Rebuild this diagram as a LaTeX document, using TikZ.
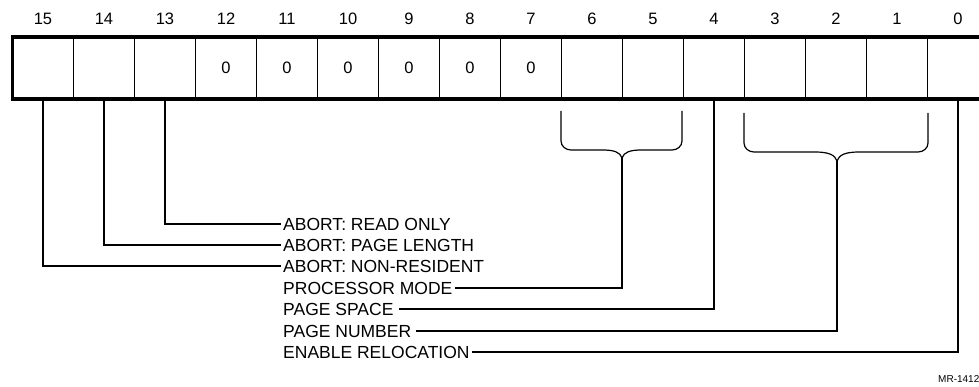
\documentclass[tikz,border=0pt]{standalone}
\usepackage{fontspec}
\setmainfont{Liberation Sans}
\usetikzlibrary{positioning}

\tikzset{
  cell/.style={draw,line width=1pt,minimum width=61pt,minimum height=62pt,inner sep=0pt,outer sep=0pt,font=\fontsize{16.5}{19}\selectfont},
  bitnum/.style={font=\fontsize{16.5}{19}\selectfont},
  frame/.style={line width=3.6pt},
  wire/.style={line width=1.2pt},
  flag/.style={anchor=west,inner sep=2pt,font=\fontsize{17.5}{20}\selectfont},
  flagr/.style={flag,inner xsep=5pt}
}

\begin{document}
\begin{tikzpicture}[x=1pt,y=-1pt]
  \useasboundingbox (0,0) rectangle (979,387);
  % register cells
  \foreach \b/\v in {15/,14/,13/,12/0,11/0,10/0,9/0,8/0,7/0,6/,5/,4/,3/,2/,1/,0/}{
    \node[cell] (b\b) at ({958-61*\b},68) {\v};
    \node[bitnum] (n\b) at ({958-61*\b},19) {\b};
  }
  \draw[frame] (b15.north west) rectangle (b0.south east);

  % braces
  \coordinate (br1) at (622,158);
  \coordinate (br2) at (837,161);
  \draw[wire] (561,111) -- (561,141) to[out=-90,in=180] (571,150) -- (602,150)
     .. controls (614,150) and (620,152) .. (br1)
     .. controls (624,152) and (630,150) .. (642,150) -- (672,150)
     to[out=0,in=-90] (682,141) -- (682,111);
  \draw[wire] (744,113) -- (744,143) to[out=-90,in=180] (754,152) -- (815,152)
     .. controls (829,152) and (835,155) .. (br2)
     .. controls (839,155) and (845,152) .. (859,152) -- (918,152)
     to[out=0,in=-90] (928,143) -- (928,113);

  % labels
  \node[flag] (ro) at (281,224) {ABORT: READ ONLY};
  \node[flag] (pl) at (281,245) {ABORT: PAGE LENGTH};
  \node[flag] (nr) at (281,266) {ABORT: NON-RESIDENT};
  \node[flag] (pm) at (281,288) {PROCESSOR MODE};
  \node[flagr,xshift=-3pt] (ps) at (281,309) {PAGE SPACE};
  \node[flagr,xshift=-3pt] (pn) at (281,331) {PAGE NUMBER};
  \node[flag] (er) at (281,352) {ENABLE RELOCATION};

  % connectors
  \draw[wire] (b13.south) |- (ro.west);
  \draw[wire] (b14.south) |- (pl.west);
  \draw[wire] (b15.south) |- (nr.west);
  \draw[wire] (br1) |- (pm.east);
  \draw[wire] (b4.south) |- (ps.east);
  \draw[wire] (br2) |- (pn.east);
  \draw[wire] (b0.south) |- (er.east);

  \node[anchor=west,inner sep=0pt,font=\fontsize{10}{11}\selectfont] (mr) at (938,379) {MR-1412};
\end{tikzpicture}
\end{document}
